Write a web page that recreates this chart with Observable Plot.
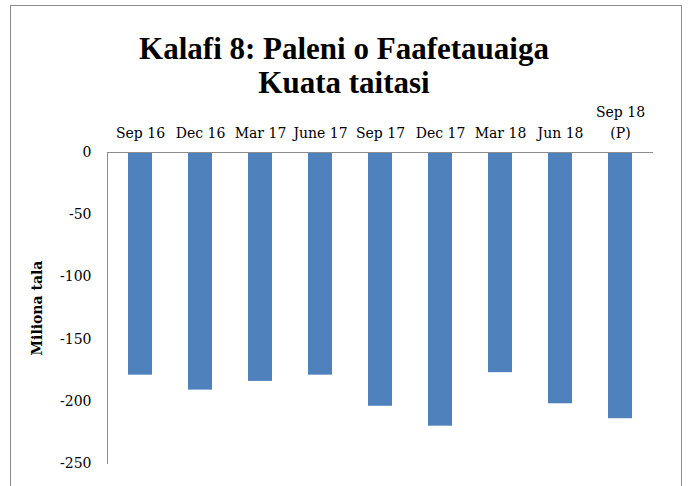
<!DOCTYPE html>
<html>
<head>
<meta charset="utf-8">
<script src="https://cdn.jsdelivr.net/npm/d3@7"></script>
<script src="https://cdn.jsdelivr.net/npm/@observablehq/plot@0.6"></script>
<style>
  html, body { margin: 0; padding: 0; background: #fff; }
  #wrap { position: relative; width: 688px; height: 486px; overflow: hidden; background: #fff; }
  #border { position: absolute; left: 10px; top: 5px; width: 672px; height: 500px; border: 1px solid #8c8c8c; box-sizing: border-box; }
  #title { position: absolute; left: 0; top: 32px; width: 688px; text-align: center;
           font-family: "Liberation Serif", serif; font-weight: bold; font-size: 31px; line-height: 34px; color: #000; }
  #chart { position: absolute; left: 0; top: 0; }
</style>
</head>
<body>
<div id="wrap">
  <div id="border"></div>
  <div id="chart"></div>
  <div id="title">Kalafi 8: Paleni o Faafetauaiga<br>Kuata taitasi</div>
</div>
<script>
const quarters = ["Sep 16", "Dec 16", "Mar 17", "June 17", "Sep 17", "Dec 17", "Mar 18", "Jun 18", "Sep 18\n(P)"];
const balance = [-179, -191, -184, -179, -204, -220, -177, -202, -214];
const yTicks = [0, -50, -100, -150, -200, -250];
const yLabel = "Miliona tala";

const data = quarters.map((q, i) => ({quarter: q, value: balance[i]}));

const chart = Plot.plot({
  width: 688,
  height: 486,
  marginTop: 152,
  marginLeft: 107,
  marginRight: 35,
  marginBottom: 23,
  style: {fontFamily: "DejaVu Serif, serif", fontSize: "14px", background: "transparent", color: "#000"},
  x: {domain: quarters, paddingInner: 0.6, paddingOuter: 0.3, axis: null},
  y: {domain: [-250, 0], axis: null},
  marks: [
    Plot.barY(data, {x: "quarter", y: "value", fill: "#4F81BD"}),
    Plot.ruleY([0], {stroke: "#8c8c8c", strokeWidth: 1}),
    Plot.frame({anchor: "left", stroke: "#8c8c8c"}),
    Plot.axisX({anchor: "top", tickSize: 0, tickPadding: 15, label: null, lineAnchor: "bottom", lineHeight: 1.45, fontSize: 14}),
    Plot.axisY({ticks: yTicks, tickSize: 0, tickPadding: 16, label: null, fontSize: 14, tickFormat: d => String(d)}),
    Plot.text([yLabel], {frameAnchor: "left", textAnchor: "middle", dx: -70, rotate: -90, fontWeight: "bold", fontSize: 14, fontFamily: "DejaVu Serif, serif"})
  ]
});
document.getElementById("chart").appendChild(chart);
</script>
</body>
</html>
